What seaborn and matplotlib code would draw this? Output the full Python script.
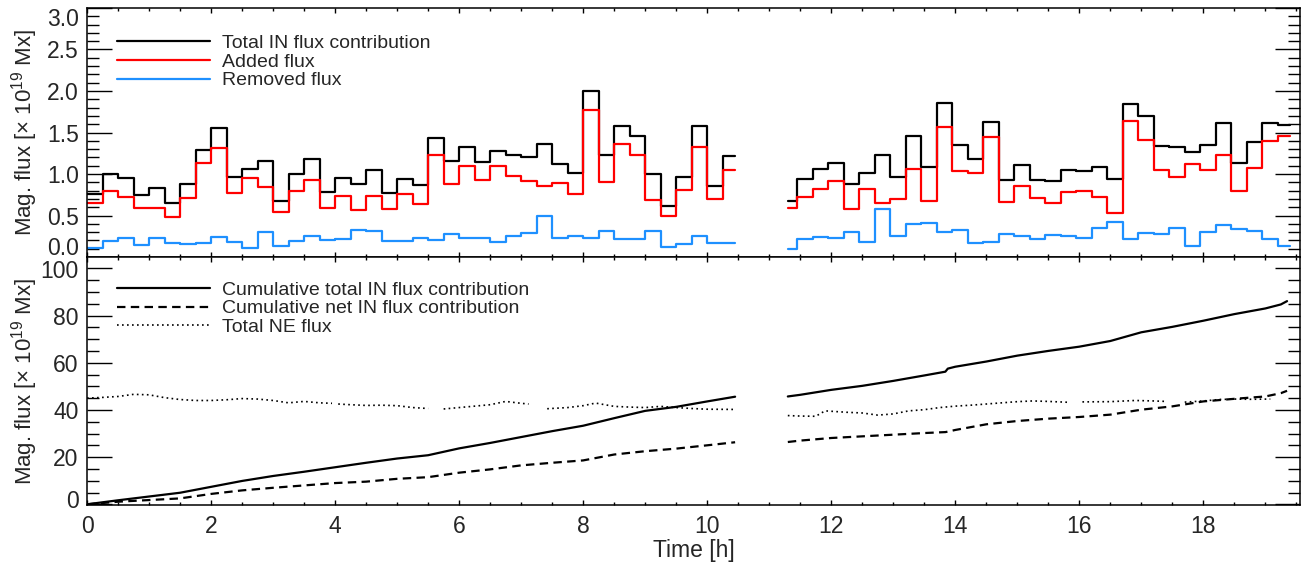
import numpy as np
import pandas as pd
import seaborn as sns
import matplotlib.pyplot as plt
from matplotlib.lines import Line2D
from matplotlib.ticker import MultipleLocator
from matplotlib.transforms import ScaledTranslation

sns.set_style('ticks')
plt.rcParams['font.family'] = ['Liberation Sans', 'DejaVu Sans']
plt.rcParams['mathtext.fontset'] = 'custom'
plt.rcParams['mathtext.rm'] = 'Liberation Sans'
plt.rcParams['mathtext.it'] = 'Liberation Sans:italic'

# time bin edges [h] of the two observing intervals (15 min bins)
t_edges_a = np.append(np.arange(0, 10.3, 0.25), 10.45)
t_edges_b = np.concatenate([[11.3], np.arange(11.45, 19.3, 0.25), [19.4]])

# top panel, first interval
total_a = [0.757, 0.999, 0.95, 0.749, 0.83, 0.656, 0.878, 1.292, 1.554, 0.958,
           1.059, 1.159, 0.676, 0.999, 1.184, 0.789, 0.95, 0.882, 1.051, 0.769,
           0.942, 0.870, 1.433, 1.159, 1.320, 1.143, 1.280, 1.232, 1.204, 1.361,
           1.119, 1.011, 1.996, 1.224, 1.574, 1.461, 1.002, 0.616, 0.962, 1.574,
           0.861, 1.212]
added_a = [0.656, 0.801, 0.728, 0.595, 0.595, 0.487, 0.716, 1.131, 1.313, 0.777,
           0.95, 0.849, 0.547, 0.801, 0.93, 0.588, 0.737, 0.568, 0.737, 0.576,
           0.757, 0.636, 1.232, 0.882, 1.091, 0.93, 1.099, 0.970, 0.910, 0.861,
           0.890, 0.761, 1.767, 0.902, 1.365, 1.232, 0.688, 0.499, 0.809, 1.320,
           0.697, 1.051]
removed_a = [0.105, 0.193, 0.226, 0.145, 0.233, 0.165, 0.153, 0.165, 0.238, 0.185,
             0.105, 0.306, 0.133, 0.197, 0.257, 0.205, 0.217, 0.326, 0.314, 0.197,
             0.197, 0.234, 0.205, 0.274, 0.233, 0.225, 0.185, 0.254, 0.294, 0.495,
             0.233, 0.254, 0.233, 0.318, 0.213, 0.217, 0.314, 0.125, 0.153, 0.254,
             0.165, 0.173]

# top panel, second interval
total_b = [0.676, 0.942, 1.063, 1.131, 0.882, 1.011, 1.224, 0.958, 1.461, 1.079,
           1.856, 1.353, 1.184, 1.622, 0.930, 1.111, 0.930, 0.910, 1.043, 1.031,
           1.083, 0.942, 1.844, 1.695, 1.332, 1.320, 1.260, 1.353, 1.614, 1.131,
           1.385, 1.614, 1.594]
added_b = [0.588, 0.728, 0.821, 0.910, 0.580, 0.821, 0.648, 0.700, 1.063, 0.676,
           1.562, 1.031, 1.018, 1.446, 0.668, 0.861, 0.709, 0.648, 0.781, 0.801,
           0.728, 0.535, 1.643, 1.413, 1.051, 0.958, 1.123, 1.051, 1.224, 0.797,
           1.071, 1.401, 1.461]
removed_b = [0.093, 0.217, 0.238, 0.225, 0.298, 0.185, 0.576, 0.254, 0.395, 0.407,
             0.298, 0.326, 0.165, 0.185, 0.274, 0.257, 0.217, 0.266, 0.257, 0.225,
             0.346, 0.419, 0.213, 0.286, 0.274, 0.346, 0.137, 0.298, 0.386, 0.334,
             0.314, 0.217, 0.137]

# bottom panel, cumulative curves
cum_time_a = [0, 0.5, 1.0, 1.5, 2.0, 2.5, 3.0, 3.5, 4.0, 4.5, 5.0, 5.5, 6.0, 6.5,
              7.0, 7.5, 8.0, 8.5, 9.0, 9.5, 10.0, 10.45]
cum_total_a = [0, 1.7, 3.3, 4.9, 7.4, 9.9, 12.0, 13.8, 15.7, 17.6, 19.4, 20.8, 23.7,
               26.0, 28.5, 31.0, 33.3, 36.5, 39.6, 41.3, 43.6, 45.6]
cum_net_a = [0, 1.1, 1.8, 2.5, 4.4, 5.9, 7.0, 8.0, 9.0, 9.6, 10.8, 11.5, 13.4, 14.8,
             16.5, 17.6, 18.6, 21.1, 22.5, 23.6, 25.0, 26.3]
cum_time_b = [11.3, 11.5, 12.0, 12.5, 13.0, 13.5, 13.84, 13.88, 14.0, 14.5, 15.0, 15.5,
              16.0, 16.5, 17.0, 17.5, 18.0, 18.5, 19.0, 19.25, 19.35]
cum_total_b = [45.7, 46.4, 48.5, 50.2, 52.3, 54.6, 56.2, 57.5, 58.3, 60.5, 63.0, 65.0,
               66.8, 69.2, 72.9, 75.2, 77.8, 80.6, 83.0, 84.7, 86.1]
cum_net_b = [26.4, 27.0, 28.1, 28.8, 29.5, 30.2, 30.6, 30.8, 31.5, 33.9, 35.3, 36.3,
             37.0, 38.0, 40.1, 41.5, 43.6, 44.7, 45.7, 47.1, 48.1]

# total NE flux (nan = data gap)
nan = np.nan
ne_time = [0.0, 0.25, 0.5, 0.75, 1.0, 1.25, 1.5, 1.75, 2.0, 2.25, 2.5, 2.75, 3.0,
           3.25, 3.5, 3.75, 3.95, 4.0, 4.05, 4.25, 4.5, 4.75, 5.0, 5.25, 5.5, 5.6,
           5.75, 6.0, 6.25, 6.5, 6.75, 7.0, 7.12, 7.3, 7.42, 7.75, 8.0, 8.2, 8.5,
           8.75, 9.0, 9.25, 9.5, 9.75, 10.0, 10.45, 11.0,
           11.3, 11.5, 11.75, 11.9, 12.25, 12.5, 12.75, 13.0, 13.25, 13.5, 13.75,
           14.0, 14.25, 14.5, 14.75, 15.0, 15.25, 15.5, 15.85, 15.95, 16.05, 16.5,
           16.9, 17.2, 17.4, 17.55, 17.7, 18.0, 18.25, 18.5, 18.75, 19.08]
ne_flux = [45.0, 45.3, 45.7, 46.6, 46.4, 45.2, 44.4, 44.0, 44.0, 44.3, 44.8, 44.6, 44.0,
           43.0, 43.6, 43.0, 42.8, nan, 42.5, 42.2, 41.9, 42.0, 41.8, 41.0, 40.6, nan,
           40.4, 41.0, 41.6, 42.2, 43.6, 42.8, 42.5, nan, 40.5, 41.0, 41.8, 42.9, 41.5,
           41.2, 41.0, 41.5, 41.0, 40.6, 40.3, 40.2, nan,
           37.6, 37.4, 37.3, 39.6, 39.0, 38.7, 37.8, 38.3, 39.6, 40.1, 41.0,
           41.6, 42.0, 42.5, 43.0, 43.5, 43.8, 43.6, 43.2, nan, 43.4, 43.5,
           44.0, 43.8, 43.6, nan, 43.3, 43.8, 44.4, 44.6, 44.5, 44.6]


def steps(edges, vals, piece):
    return pd.DataFrame({'time': edges, 'flux': np.append(vals, vals[-1]), 'piece': piece})


top = {}
for name, a, b in [('total', total_a, total_b), ('added', added_a, added_b),
                   ('removed', removed_a, removed_b)]:
    top[name] = pd.concat([steps(t_edges_a, a, 0), steps(t_edges_b, b, 1)])

cum = pd.concat([
    pd.DataFrame({'time': cum_time_a, 'total': cum_total_a, 'net': cum_net_a, 'piece': 0}),
    pd.DataFrame({'time': cum_time_b, 'total': cum_total_b, 'net': cum_net_b, 'piece': 1})])

ne = pd.DataFrame({'time': ne_time, 'flux': ne_flux})
ne['piece'] = ne['flux'].isna().cumsum()
ne = ne.dropna()

fig = plt.figure(figsize=(13.07, 5.63), dpi=100)
ax1 = fig.add_axes([0.0666, 0.5435, 0.9281, 0.4423])
ax2 = fig.add_axes([0.0666, 0.1030, 0.9281, 0.4405])

colors = {'total': 'black', 'added': '#ff0000', 'removed': '#1e90ff'}
for name in ['total', 'added', 'removed']:
    sns.lineplot(data=top[name], x='time', y='flux', units='piece', estimator=None,
                 sort=False, drawstyle='steps-post', color=colors[name], lw=1.6, ax=ax1)

sns.lineplot(data=cum, x='time', y='total', units='piece', estimator=None,
             sort=False, color='black', lw=1.6, ax=ax2)
sns.lineplot(data=cum, x='time', y='net', units='piece', estimator=None,
             sort=False, color='black', lw=1.6, ax=ax2)
ax2.lines[-2].set_dashes([3.8, 2.4])
ax2.lines[-1].set_dashes([3.8, 2.4])
sns.lineplot(data=ne, x='time', y='flux', units='piece', estimator=None,
             sort=False, color='black', lw=1.2, ax=ax2)
for ln in ax2.lines[4:]:
    ln.set_dashes([1.0, 2.0])

for ax in (ax1, ax2):
    ax.set_xlim(0, 19.56)
    ax.xaxis.set_major_locator(MultipleLocator(2))
    ax.xaxis.set_minor_locator(MultipleLocator(0.5))
    ax.tick_params(which='both', direction='in', top=True, right=True,
                   labelsize=16.5, width=1, color='black')
    ax.tick_params(axis='y', which='major', length=18, pad=6)
    ax.tick_params(axis='y', which='minor', length=8.6)
    ax.tick_params(axis='x', which='major', length=3.6, pad=7)
    ax.tick_params(axis='x', which='minor', length=2)
    for sp in ax.spines.values():
        sp.set_linewidth(1.1)
        sp.set_color('black')
    ax.set_ylabel(r'Mag. flux [$\times$ 10$^{19}$ Mx]', fontsize=16)
    ax.yaxis.set_label_coords(-0.039, 0.5)

ax1.set_ylim(0, 3.0)
ax1.set_yticks(np.arange(0, 3.01, 0.5), [f'{v:.1f}' for v in np.arange(0, 3.01, 0.5)])
ax1.yaxis.set_minor_locator(MultipleLocator(0.1))
ax1.set_xlabel('')
ax1.tick_params(axis='x', labelbottom=False)

ax2.set_ylim(-0.3, 104.8)
ax2.set_yticks(np.arange(0, 101, 20), [str(v) for v in range(0, 101, 20)])
ax2.yaxis.set_minor_locator(MultipleLocator(5))
ax2.set_xlabel('Time [h]', fontsize=16.5, labelpad=1)


def nudge(label, va, dy_px):
    label.set_va(va)
    label.set_transform(label.get_transform()
                        + ScaledTranslation(0, dy_px / 72, fig.dpi_scale_trans))


# keep the extreme tick labels inside their own panel
ylab1 = ax1.get_yticklabels()
ylab2 = ax2.get_yticklabels()
nudge(ylab1[0], 'bottom', -2)
nudge(ylab1[-1], 'top', 0)
nudge(ylab2[0], 'baseline', -3)
nudge(ylab2[-1], 'top', 6)

h1 = [Line2D([], [], color=colors[n], lw=1.6) for n in ['total', 'added', 'removed']]
ax1.legend(h1, ['Total IN flux contribution', 'Added flux', 'Removed flux'],
           loc='upper left', bbox_to_anchor=(0.025, 0.895), frameon=False,
           fontsize=14, handlelength=4.75, handletextpad=0.62, labelspacing=0.06,
           borderpad=0, borderaxespad=0)
h2 = [Line2D([], [], color='black', lw=1.6),
      Line2D([], [], color='black', lw=1.6, dashes=[3.8, 2.4]),
      Line2D([], [], color='black', lw=1.2, dashes=[1.0, 2.0])]
ax2.legend(h2, ['Cumulative total IN flux contribution', 'Cumulative net IN flux contribution',
                'Total NE flux'],
           loc='upper left', bbox_to_anchor=(0.025, 0.903), frameon=False,
           fontsize=14, handlelength=4.75, handletextpad=0.62, labelspacing=0.06,
           borderpad=0, borderaxespad=0)

fig.savefig('out.png', dpi=100)
